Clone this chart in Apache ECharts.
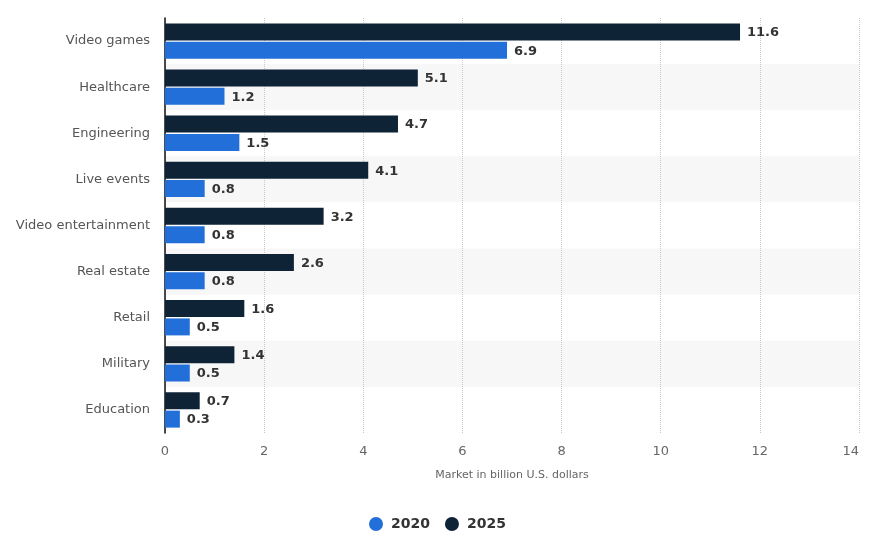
<!DOCTYPE html>
<html>
<head>
<meta charset="utf-8">
<script src="https://cdn.jsdelivr.net/npm/echarts@6/dist/echarts.min.js"></script>
<style>html,body{margin:0;padding:0;background:#fff;}#c{width:891px;height:550px;}</style>
</head>
<body>
<div id="c"></div>
<script>
var categories = ['Video games','Healthcare','Engineering','Live events','Video entertainment','Real estate','Retail','Military','Education'];
var values2020 = [6.9,1.2,1.5,0.8,0.8,0.8,0.5,0.5,0.3];
var values2025 = [11.6,5.1,4.7,4.1,3.2,2.6,1.6,1.4,0.7];
var xTicks = [0,2,4,6,8,10,12,14];
var FONT = 'DejaVu Sans';
var chart = echarts.init(document.getElementById('c'));
var labelStyle = {show:true, position:'right', distance:7, fontFamily:FONT, fontSize:13, fontWeight:'bold', color:'#333', offset:[0,1]};
chart.setOption({
  animation:false,
  textStyle:{fontFamily:FONT},
  grid:{left:165, right:32, top:18, bottom:117},
  legend:{
    data:['2020','2025'], left:364, top:512, icon:'circle', itemWidth:14, itemHeight:14, itemGap:15,
    textStyle:{fontFamily:FONT, fontSize:14, fontWeight:'bold', color:'#333', padding:[0,0,0,3]}
  },
  xAxis:{
    type:'value', min:xTicks[0], max:xTicks[xTicks.length-1], interval:2,
    name:'Market in billion U.S. dollars', nameLocation:'middle', nameGap:37,
    nameTextStyle:{fontFamily:FONT, fontSize:11, color:'#666'},
    axisLine:{show:false}, axisTick:{show:false},
    axisLabel:{fontFamily:FONT, fontSize:13, color:'#666', margin:12, alignMaxLabel:'right'},
    splitLine:{show:true, lineStyle:{type:'dotted', color:'#c8c8c8', width:1}}
  },
  yAxis:{
    type:'category', data:categories, inverse:true,
    axisLine:{show:true, lineStyle:{color:'#111', width:1.5}},
    axisTick:{show:false},
    axisLabel:{fontFamily:FONT, fontSize:13, color:'#555', margin:15, padding:[3,0,0,0]},
    splitArea:{show:true, areaStyle:{color:['#ffffff','#f7f7f7']}}
  },
  series:[
    {name:'2025', type:'bar', data:values2025, barWidth:17, barGap:'8%', itemStyle:{color:'#0f2337'}, label:labelStyle},
    {name:'2020', type:'bar', data:values2020, barWidth:17, barGap:'8%', itemStyle:{color:'#236fd9'}, label:labelStyle}
  ]
});
</script>
</body>
</html>
